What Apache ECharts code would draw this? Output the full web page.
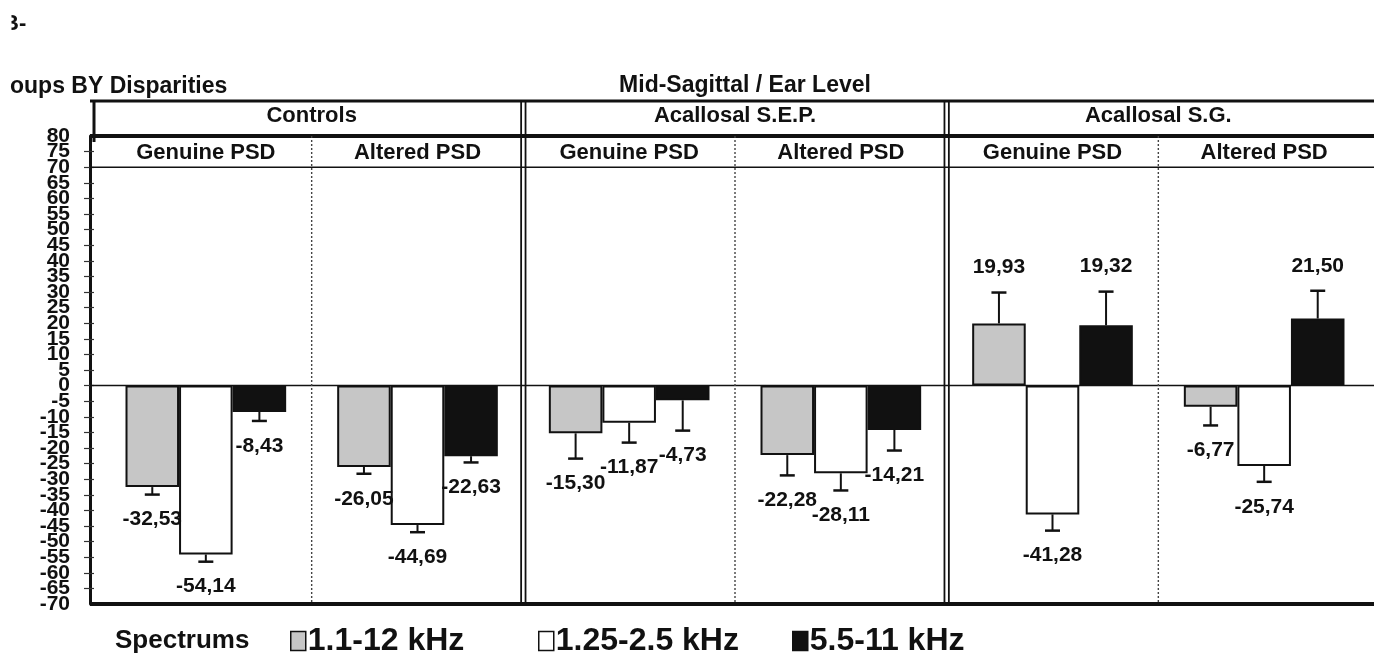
<!DOCTYPE html>
<html>
<head>
<meta charset="utf-8">
<script src="https://cdn.jsdelivr.net/npm/echarts@6/dist/echarts.min.js"></script>
<style>
  html, body { margin: 0; padding: 0; background: #fff; }
  #chart { width: 1374px; height: 658px; }
</style>
</head>
<body>
<div id="chart"></div>
<script>
// ---- data -------------------------------------------------------------
const groups = ['Controls', 'Acallosal S.E.P.', 'Acallosal S.G.'];
const conditions = ['Genuine PSD', 'Altered PSD', 'Genuine PSD', 'Altered PSD', 'Genuine PSD', 'Altered PSD'];
const spectrums = ['1.1-12 kHz', '1.25-2.5 kHz', '5.5-11 kHz'];

const band1to12   = [-32.53, -26.05, -15.30, -22.28, 19.93, -6.77];
const band125to25 = [-54.14, -44.69, -11.87, -28.11, -41.28, -25.74];
const band55to11  = [-8.43, -22.63, -4.73, -14.21, 19.32, 21.50];

const err1to12   = [2.4, 2.2, 8.1, 6.5, 9.9, 6.0];
const err125to25 = [2.3, 2.3, 6.4, 5.5, 5.2, 5.1];
const err55to11  = [2.9, 2.0, 9.7, 6.6, 10.8, 8.9];

const yMin = -70, yMax = 80, yStep = 5;

// ---- layout / style ---------------------------------------------------
const INK = '#111';
const FONT = '"Liberation Sans", Arial, sans-serif';
const BAR_FRAC = 0.253;      // bar width as share of one condition band
const AXIS_SHIFT = 10;       // y axis drawn slightly left of first band
const HEADER_H = 35;         // height of the group row above the plot
const LABEL_GAP = 25;        // distance from error cap to value label
const fills = ['#c6c6c6', '#ffffff', '#111111'];
const values = [band1to12, band125to25, band55to11];
const errors = [err1to12, err125to25, err55to11];

const fmt = v => v.toFixed(2).replace('.', ',');

function errorBars(slot) {
  return function (params, api) {
    const i = api.value(0), v = api.value(1), e = api.value(2);
    const band = api.size([1, 0])[0];
    const bw = band * BAR_FRAC;
    const cx = api.coord([i, 0])[0] + (slot - 1) * bw;
    const sign = v >= 0 ? 1 : -1;
    const end = api.coord([i, v])[1];
    const tip = api.coord([i, v + sign * e])[1];
    const cap = 7.5;
    return {
      type: 'group',
      children: [
        { type: 'line', shape: { x1: cx, y1: end, x2: cx, y2: tip }, style: { stroke: INK, lineWidth: 2 } },
        { type: 'line', shape: { x1: cx - cap, y1: tip, x2: cx + cap, y2: tip }, style: { stroke: INK, lineWidth: 2.5 } },
        { type: 'text', x: cx, y: tip - sign * LABEL_GAP,
          style: { text: fmt(v), align: 'center', verticalAlign: 'middle',
                   font: 'bold 21px ' + FONT, fill: INK } }
      ]
    };
  };
}

// frame: header rules, zero line, panel separators
function frame(params, api) {
  const i = api.value(0);
  const cs = params.coordSys;
  const band = api.size([1, 0])[0];
  const yTop = api.coord([i, yMax])[1];
  const yBot = api.coord([i, yMin])[1];
  const bx = api.coord([i, 0])[0] + band / 2;
  const kids = [];
  if (i === 0) {
    const x0 = cs.x - AXIS_SHIFT, x1 = cs.x + cs.width + 10;
    const rule = (y, w) => ({ type: 'line', shape: { x1: x0, y1: y, x2: x1, y2: y }, style: { stroke: INK, lineWidth: w } });
    kids.push(rule(yTop - HEADER_H, 3));
    kids.push(rule(yTop, 4));
    kids.push(rule(api.coord([i, 70])[1], 1.5));
    kids.push(rule(api.coord([i, 0])[1], 1.5));
    kids.push(rule(yBot, 4));
    kids.push({ type: 'line', shape: { x1: x0 + 4, y1: yTop - HEADER_H, x2: x0 + 4, y2: yTop + 6 }, style: { stroke: INK, lineWidth: 3 } });
  }
  if (i === 5) return { type: 'group', children: kids };
  if (i % 2 === 1) {
    [-2.2, 2.2].forEach(d => kids.push({
      type: 'line', shape: { x1: bx + d, y1: yTop - HEADER_H, x2: bx + d, y2: yBot },
      style: { stroke: INK, lineWidth: 1.8 }
    }));
  } else {
    kids.push({ type: 'line', shape: { x1: bx, y1: yTop, x2: bx, y2: yBot },
      style: { stroke: '#444', lineWidth: 1.4, lineDash: [2, 2] } });
  }
  return { type: 'group', children: kids };
}

const chart = echarts.init(document.getElementById('chart'), null, { renderer: 'canvas' });

const barSeries = spectrums.map((name, s) => ({
  name: name,
  type: 'bar',
  data: values[s],
  barWidth: (BAR_FRAC * 100) + '%',
  barGap: '0%',
  itemStyle: { color: fills[s], borderColor: INK, borderWidth: 2 },
  z: 3
}));

const errSeries = spectrums.map((name, s) => ({
  name: name + ' SE',
  type: 'custom',
  renderItem: errorBars(s),
  data: values[s].map((v, i) => [i, v, errors[s][i]]),
  encode: { x: 0, y: 1 },
  z: 4,
  silent: true
}));

const frameSeries = {
  name: 'frame',
  type: 'custom',
  renderItem: frame,
  data: conditions.map((c, i) => [i, 0]),
  encode: { x: 0, y: 1 },
  z: 5,
  silent: true
};

const legendStarts = [290, 538, 792];
const tickLabelStyle = { margin: 20, color: INK, fontFamily: FONT, fontWeight: 'bold', fontSize: 21, lineHeight: 14 };

chart.setOption({
  animation: false,
  backgroundColor: '#fff',
  grid: { left: 100, right: 4, top: 136, bottom: 54, containLabel: false },
  xAxis: [
    {
      type: 'category', data: conditions, position: 'top',
      axisLine: { show: false }, axisTick: { show: false }, splitLine: { show: false },
      axisLabel: { inside: true, interval: 0, margin: 6, color: INK,
                   fontFamily: FONT, fontWeight: 'bold', fontSize: 22 }
    },
    {
      type: 'category', data: groups, position: 'top',
      axisLine: { show: false }, axisTick: { show: false }, splitLine: { show: false },
      axisLabel: { interval: 0, margin: 9, color: INK,
                   fontFamily: FONT, fontWeight: 'bold', fontSize: 22 }
    }
  ],
  yAxis: [
    {
      // inner tick labels, outward ticks, axis line
      type: 'value', min: yMin, max: yMax, interval: yStep, offset: AXIS_SHIFT,
      axisLine: { show: true, lineStyle: { color: INK, width: 3 } },
      axisTick: { show: true, length: 6, lineStyle: { color: '#333', width: 1.2 } },
      splitLine: { show: false },
      axisLabel: Object.assign({ showMinLabel: false, showMaxLabel: false, hideOverlap: false }, tickLabelStyle)
    },
    {
      // end labels (80 / -70) and inward ticks
      type: 'value', min: yMin, max: yMax, interval: yStep, offset: AXIS_SHIFT, position: 'left',
      axisLine: { show: false },
      axisTick: { show: true, inside: true, length: 4, lineStyle: { color: '#333', width: 1.2 } },
      splitLine: { show: false },
      axisLabel: Object.assign({
        showMinLabel: true, showMaxLabel: true, hideOverlap: false,
        formatter: v => (v === yMin || v === yMax) ? String(v) : ''
      }, tickLabelStyle)
    }
  ],
  legend: spectrums.map((name, s) => ({
    data: [name], left: legendStarts[s], top: 625, orient: 'horizontal', padding: 0,
    icon: 'rect', itemWidth: 15, itemHeight: 19, itemGap: 0,
    selectedMode: false,
    itemStyle: { borderColor: INK, borderWidth: 1.5 },
    textStyle: { color: INK, fontFamily: FONT, fontWeight: 'bold', fontSize: 32, padding: [0, 0, 0, -3] }
  })),
  graphic: [
    { type: 'text', x: 3, y: 24, style: { text: 'B-', font: 'bold 22px ' + FONT, fill: INK, verticalAlign: 'middle' } },
    { type: 'rect', shape: { x: 0, y: 5, width: 11.5, height: 36 }, style: { fill: '#fff' }, z: 10 },
    { type: 'text', x: 10, y: 87, style: { text: 'oups BY Disparities', font: 'bold 23px ' + FONT, fill: INK, verticalAlign: 'middle' } },
    { type: 'text', x: 745, y: 86, style: { text: 'Mid-Sagittal / Ear Level', font: 'bold 23px ' + FONT, fill: INK, align: 'center', verticalAlign: 'middle' } },
    { type: 'text', x: 115, y: 641, style: { text: 'Spectrums', font: 'bold 26px ' + FONT, fill: INK, verticalAlign: 'middle' } }
  ],
  series: [...barSeries, ...errSeries, frameSeries]
});
</script>
</body>
</html>
